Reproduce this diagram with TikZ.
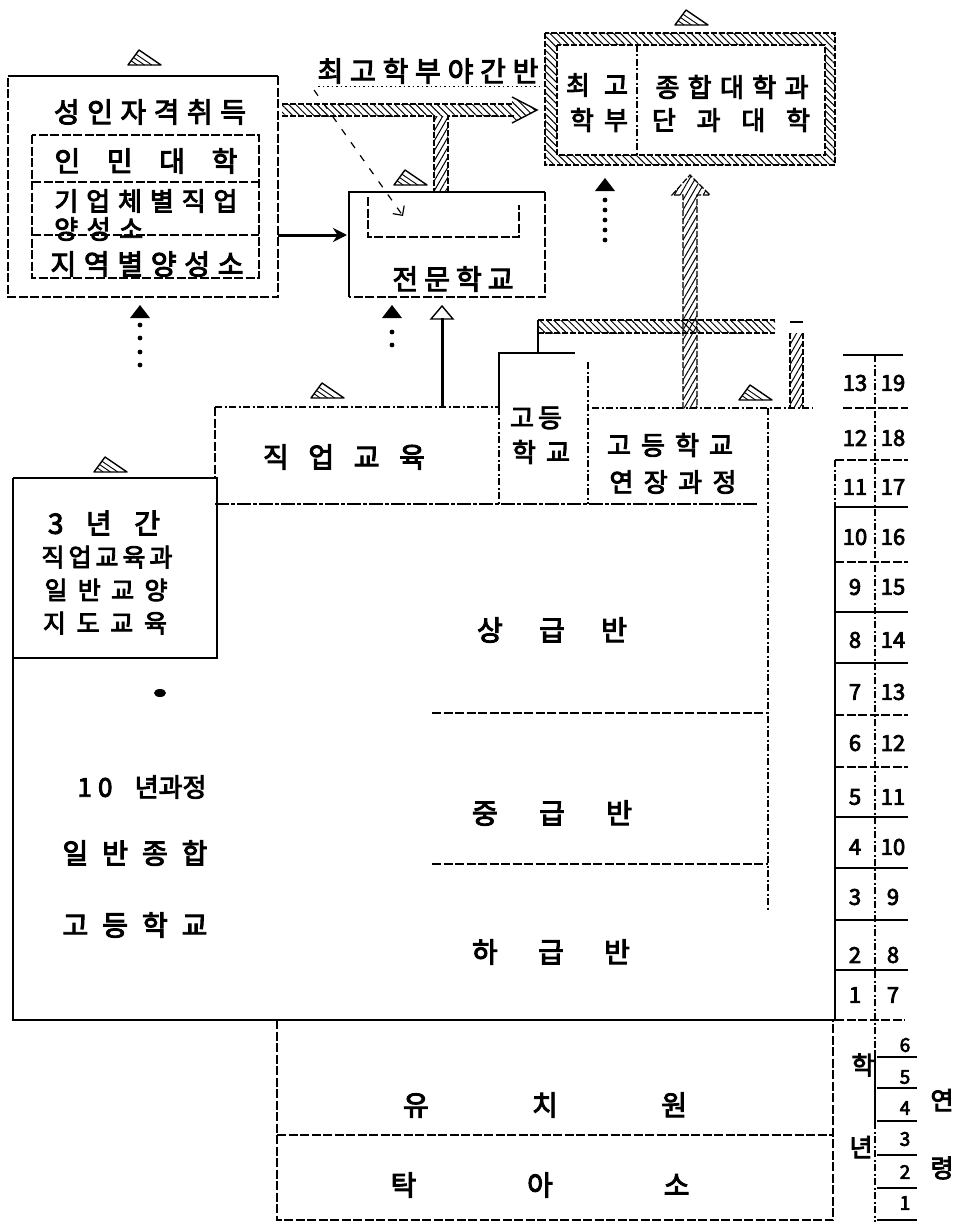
\documentclass[tikz,border=0pt]{standalone}
\usepackage{fontspec}
\usetikzlibrary{patterns.meta,arrows.meta}
\newfontfamily\kr{Noto Sans CJK KR}[FakeBold=3.5]
\newcommand\spr[2]{\makebox[#1pt][s]{\spaceskip=1pt plus 1fil\relax #2}}
\newcommand\kt[1]{\kr\fontsize{#1}{#1}\selectfont}
\newcommand\dotarrow[3]{%
  \fill (#1,#2) -- (#1+10,#2+13) -- (#1-10,#2+13) -- cycle;
  \foreach \yy in {#3} \fill (#1,\yy) circle (2.4);
}
\begin{document}
\begin{tikzpicture}[x=1pt,y=-1pt,
  txt/.style={inner sep=0pt, font=\kt{28}},
  mtxt/.style={inner sep=0pt, font=\kt{26}},
  stxt/.style={inner sep=0pt, font=\kt{25}},
  num/.style={inner sep=0pt, font=\kt{22}},
  snum/.style={inner sep=0pt, font=\kt{19}},
  solidl/.style={line width=1.6pt},
  heavyl/.style={line width=2.6pt},
  dashl/.style={line width=1.5pt, dash pattern=on 9pt off 2.5pt},
  ddl/.style={line width=1.4pt, dash pattern=on 7pt off 2.5pt on 2pt off 2.5pt},
  hdash/.style={line width=2.4pt, dash pattern=on 14pt off 2pt on 4pt off 2pt},
  hatchh/.style={pattern={Lines[angle=-45,distance=5pt,line width=1pt]}},
  hatchv/.style={pattern={Lines[angle=60,distance=5pt,line width=1pt]}},
  hedge/.style={line width=1.2pt, dash pattern=on 6pt off 2pt},
  tri/.pic={
    \draw[line width=1.4pt, line join=round] (-16,0) -- (-5,-15) -- (17,0) -- cycle;
    \foreach \t in {0.28,0.5,0.72} \draw[line width=0.9pt] (-16+11*\t,-15*\t) -- (-16+33*\t,0);
  },
]
\useasboundingbox (0,0) rectangle (956,1223);
\fill[white] (0,0) rectangle (956,1223);

% ---------- top-left box
\draw[solidl] (8,76) -- (278,76);
\draw[dashl] (278,76) -- (278,297) -- (8,297) -- (8,76);
\draw[dashl] (32,135) rectangle (259,278);
\draw[dashl] (32,182) -- (259,182);
\draw[dashl] (32,235) -- (259,235);
\node[txt] (adult) at (150,112) {\spr{192}{성 인 자 격 취 득}};
\node[txt] (pu) at (146,161) {\spr{183}{인 민 대 학}};
\node[mtxt] (ent) at (146,201) {\spr{183}{기 업 체 별 직 업}};
\node[mtxt, anchor=west] (ent2) at (54,229) {\spr{89}{양 성 소}};
\node[txt] (reg) at (147,264) {\spr{193}{지 역 별 양 성 소}};
\pic at (144,65) {tri};
\dotarrow{140}{305}{325,338,352,365}

% ---------- evening course label & hatched arrow
\node[txt] (even) at (428,71) {\spr{221}{최 고 학 부 야 간 반}};
\draw[line width=0.8pt, dash pattern=on 1.5pt off 3pt] (318,86) -- (539,86);
\path[hatchh] (282,104) rectangle (514,116);
\path[hatchv] (434,116) rectangle (448,192);
\path[hatchh] (512,97) -- (537,110) -- (512,123) -- cycle;
\draw[hedge] (282,104) -- (514,104);
\draw[hedge] (282,116) -- (434,116) -- (434,192);
\draw[hedge] (514,116) -- (448,116) -- (448,192);
\draw[line width=1.4pt] (512,97) -- (537,110) -- (512,123);

% ---------- 전문학교
\coordinate (srcA) at (278,235);
\coordinate (dstA) at (347,235);
\draw[line width=3pt, -{Stealth[length=14pt,width=14pt]}] (srcA) -- (dstA);
\draw[solidl] (349,297) -- (349,192) -- (545,192);
\draw[dashl] (545,192) -- (545,297) -- (349,297);
\draw[dashl] (368,197) -- (368,237) -- (519,237) -- (519,205);
\node[txt] (tech) at (453,279) {\spr{121}{전 문 학 교}};
\pic at (410,185) {tri};
\coordinate (dgA) at (314,90);
\coordinate (dgB) at (403,216);
\draw[line width=1.2pt, dash pattern=on 7pt off 9pt, -{Straight Barb[length=7pt]}] (dgA) -- (dgB);
\dotarrow{392}{305}{332,345}
\coordinate (vocTop) at (442,407);
\coordinate (techBot) at (442,306);
\draw[line width=3pt] (vocTop) -- (442,318);
\draw[line width=1.4pt] (431,319) -- (techBot) -- (453,319) -- cycle;

% ---------- top-right box
\path[hatchh, even odd rule] (545,33) rectangle (835,165) (557,45) rectangle (825,155);
\draw[hedge] (545,33) rectangle (835,165);
\draw[hedge] (557,45) rectangle (825,155);
\draw[ddl] (637,45) -- (637,155);
\node[mtxt] (hi1) at (597,85) {\spr{62}{최 고}};
\node[mtxt] (hi2) at (599,120) {\spr{58}{학 부}};
\node[mtxt] (univ1) at (732,87) {\spr{153}{종 합 대 학 과}};
\node[mtxt] (univ2) at (731,120) {\spr{158}{단 과 대 학}};
\pic at (691,25) {tri};
\dotarrow{605}{178}{200,210,220,230,240}

% ---------- hatched vertical arrow and horizontal band
\path[hatchv] (683,195) rectangle (697,408);
\path[hatchv] (672,195) -- (690,175) -- (710,195) -- cycle;
\draw[hedge] (683,408) -- (683,195) -- (672,195) -- (690,175) -- (710,195) -- (697,195) -- (697,408);
\path[hatchh] (538,320) rectangle (775,333);
\draw[hedge] (538,320) -- (775,320);
\draw[hedge] (538,333) -- (775,333);
\draw[solidl] (538,320) -- (538,353);
\path[hatchv] (790,333) rectangle (803,408);
\draw[hedge] (790,333) -- (790,408);
\draw[hedge] (803,333) -- (803,408);
\draw[solidl] (790,322) -- (803,322);

% ---------- vocational row
\draw[dashl] (215,407) -- (215,478);
\draw[ddl] (215,407) -- (499,407);
\draw[hdash] (215,504) -- (757,504);
\node[txt] (voc) at (344,457) {\spr{162}{직 업 교 육}};
\pic at (327,398) {tri};
\draw[solidl] (499,408) -- (499,353) -- (575,353);
\draw[ddl] (499,408) -- (499,504);
\draw[ddl] (588,362) -- (588,504);
\node[mtxt] (hs1) at (536,418) {\spr{52}{고 등}};
\node[mtxt] (hs2) at (541,452) {\spr{58}{학 교}};
\draw[ddl] (592,408) -- (813,408);
\node[mtxt] (ext1) at (670,445) {\spr{126}{고 등 학 교}};
\node[mtxt] (ext2) at (673,482) {\spr{127}{연 장 과 정}};
\pic at (755,400) {tri};
\draw[ddl] (768,408) -- (768,910);

% ---------- 3-year box and main box
\draw[solidl] (13,478) -- (217,478) -- (217,658) -- (13,658);
\pic at (110,472) {tri};
\node[txt] (y3a) at (104,523) {\spr{112}{3 년 간}};
\node[stxt] (y3b) at (107,557) {\spr{131}{직 업 교 육 과}};
\node[stxt] (y3c) at (106,590) {\spr{123}{일 반 교 양}};
\node[stxt] (y3d) at (105,623) {\spr{124}{지 도 교 육}};
\draw[heavyl] (13,478) -- (13,1020) -- (835,1020);
\fill (160,693) ellipse (6 and 4);
\node[mtxt] (c10a) at (142,787) {\spr{129}{1 0 \hspace{10pt} 년과정}};
\node[txt] (c10b) at (135,853) {\spr{145}{일 반 종 합}};
\node[txt] (c10c) at (135,925) {\spr{145}{고 등 학 교}};
\node[txt] (up) at (552,630) {\spr{150}{상 급 반}};
\draw[dashl] (432,713) -- (768,713);
\node[txt] (mid) at (552,813) {\spr{160}{중 급 반}};
\draw[dashl] (432,864) -- (768,864);
\node[txt] (low) at (551,952) {\spr{158}{하 급 반}};

% ---------- kindergarten
\draw[dashl] (277,1020) -- (277,1220) -- (833,1220) -- (833,1020);
\draw[dashl] (277,1135) -- (833,1135);
\node[txt] (kg) at (545,1105) {\spr{284}{유 치 원}};
\node[txt] (nur) at (540,1185) {\spr{299}{탁 아 소}};

% ---------- year column
\draw[solidl] (843,355) -- (903,355);
\draw[ddl] (875,355) -- (875,1050);
\draw[solidl] (875,1050) -- (875,1122);
\draw[ddl] (875,1122) -- (875,1222);
\draw[ddl] (835,460) -- (835,507);
\draw[heavyl] (835,507) -- (835,1020);
\draw[dashl] (843,408) -- (908,408);
\foreach \yy in {460,562,715,767} \draw[dashl] (835,\yy) -- (908,\yy);
\foreach \yy in {507,612,663,817,868,920,970} \draw[solidl] (835,\yy) -- (908,\yy);
\draw[dashl] (835,1020) -- (905,1020);
\foreach \g/\a/\yy in {13/19/383,12/18/438,11/17/487,10/16/537,9/15/587,8/14/640,7/13/692,6/12/743,5/11/797,4/10/847,3/9/897,2/8/955,1/7/995}
  {\node[num] (g\g) at (855,\yy) {\g}; \node[num] (a\a) at (893,\yy) {\a};}
\foreach \k/\yy/\ly in {6/1045/1057,5/1077/1088,4/1108/1121,3/1139/1155,2/1172/1188,1/1203/1220}
  {\node[snum] (k\k) at (905,\yy) {\k}; \draw[solidl] (877,\ly) -- (917,\ly);}
\node[stxt] (hak) at (863,1065) {학};
\node[stxt] (nyeon) at (861,1147) {년};
\node[stxt] (yeon) at (942,1100) {연};
\node[stxt] (ryeong) at (942,1168) {령};
\end{tikzpicture}
\end{document}
